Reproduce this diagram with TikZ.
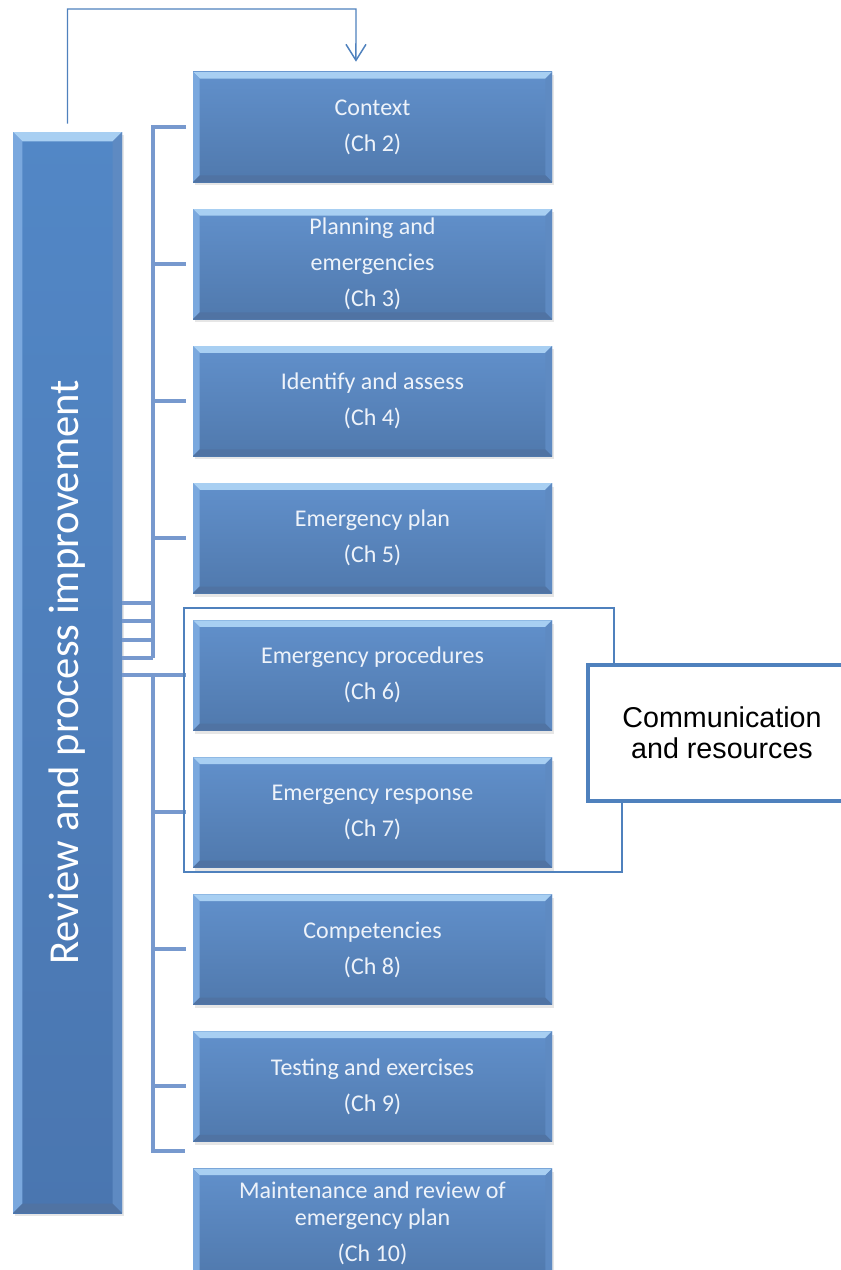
\documentclass[tikz,border=0pt]{standalone}
\usepackage{fontspec}
\setmainfont{Carlito}
\newfontfamily\arialfont{Liberation Sans}
\usetikzlibrary{arrows.meta,positioning,shadows}

\definecolor{boxtop}{HTML}{6190CB}
\definecolor{boxbot}{HTML}{5079AD}
\definecolor{bartop}{HTML}{5287C6}
\definecolor{barbot}{HTML}{4A76B0}
\definecolor{bevlight}{HTML}{A8CFF2}
\definecolor{bevleft}{HTML}{7AA8DE}
\definecolor{bevright}{HTML}{5E8AC2}
\definecolor{bevdark}{HTML}{5073A3}
\definecolor{boxtext}{HTML}{EEF3FA}
\definecolor{linkblue}{HTML}{7799CE}
\definecolor{edgeblue}{HTML}{4F81BD}

\begin{document}
\begin{tikzpicture}[x=0.75pt, y=-0.75pt, node distance=19.9pt,
  bevel/.style={path picture={
    \fill[bevlight] (path picture bounding box.north west) -- (path picture bounding box.north east)
      -- ([xshift=-#1,yshift=-#1]path picture bounding box.north east) -- ([xshift=#1,yshift=-#1]path picture bounding box.north west) -- cycle;
    \fill[bevleft] (path picture bounding box.north west) -- (path picture bounding box.south west)
      -- ([xshift=#1,yshift=#1]path picture bounding box.south west) -- ([xshift=#1,yshift=-#1]path picture bounding box.north west) -- cycle;
    \fill[bevright] (path picture bounding box.north east) -- (path picture bounding box.south east)
      -- ([xshift=-#1,yshift=#1]path picture bounding box.south east) -- ([xshift=-#1,yshift=-#1]path picture bounding box.north east) -- cycle;
    \fill[bevdark] (path picture bounding box.south west) -- (path picture bounding box.south east)
      -- ([xshift=-#1,yshift=#1]path picture bounding box.south east) -- ([xshift=#1,yshift=#1]path picture bounding box.south west) -- cycle;
  }},
  bevel/.default=5pt,
  chapter/.style={bevel, top color=boxtop, bottom color=boxbot, minimum width=269.25pt, minimum height=82.5pt,
    inner sep=0pt, text=boxtext, align=center, font=\fontsize{18}{20}\selectfont,
    drop shadow={shadow xshift=1.5pt, shadow yshift=-2.5pt, opacity=0.2}},
  sidebar/.style={bevel=7pt, top color=bartop, bottom color=barbot, minimum width=81.75pt, minimum height=810.75pt,
    inner sep=0pt, text=white, font=\fontsize{32}{36}\selectfont,
    drop shadow={shadow xshift=1.5pt, shadow yshift=-2.5pt, opacity=0.2}},
  link/.style={draw=linkblue, line width=3pt},
  frame/.style={draw=edgeblue, line width=0.9pt},
  note/.style={draw=edgeblue, line width=3pt, fill=white, minimum width=201pt, minimum height=102pt,
    align=center, font=\arialfont\fontsize{21.5}{23}\selectfont},
  back/.style={draw=edgeblue, line width=1.1pt, -{Straight Barb[length=12pt,width=15pt]}}]
\useasboundingbox (0,0) rectangle (841,1270);
\clip (0,0) rectangle (841,1270);

% chapters
\node[chapter] (ctx) at (372.5,127) {Context\\[7pt](Ch 2)};
\node[chapter] (plan) [below=of ctx] {Planning and\\[7pt]emergencies\\[7pt](Ch 3)};
\node[chapter] (assess) [below=of plan] {Identify and assess\\[7pt](Ch 4)};
\node[chapter] (eplan) [below=of assess] {Emergency plan\\[7pt](Ch 5)};
\node[chapter] (proc) [below=of eplan] {Emergency procedures\\[7pt](Ch 6)};
\node[chapter] (resp) [below=of proc] {Emergency response\\[7pt](Ch 7)};
\node[chapter] (comp) [below=of resp] {Competencies\\[7pt](Ch 8)};
\node[chapter] (test) [below=of comp] {Testing and exercises\\[7pt](Ch 9)};
\node[chapter] (maint) [below=of test] {Maintenance and review of\\emergency plan\\[7pt](Ch 10)};

\node[sidebar] (rev) at (67.5,672.5) {\rotatebox{90}{Review and process improvement}};

% upper bracket
\coordinate (upjoin) at (153,658);
\draw[link] ([xshift=-5pt]ctx.west) -| (upjoin);
\foreach \n in {plan,assess,eplan} \draw[link] (upjoin |- \n.west) -- ([xshift=-5pt]\n.west);
\foreach \y in {603,621,640,658} \draw[link] (rev.east |- 0,\y) -- (upjoin |- 0,\y);

% lower bracket
\coordinate (lowend) at (153,1151);
\draw[link] (rev.east |- proc.west) -- ([xshift=-5pt]proc.west);
\draw[link] (lowend |- proc.west) -- (lowend) -- ++(32,0);
\foreach \n in {resp,comp,test} \draw[link] (lowend |- \n.west) -- ([xshift=-5pt]\n.west);

% communication group
\draw[frame] (184,608) -- (614,608) -- (614,740) -- (622,740) -- (622,872) -- (184,872) -- cycle;
\node[note] (comm) at (722,733) {Communication\\and resources};

% feedback loop
\coordinate (looptop) at (356,9);
\draw[back] ([yshift=6pt]rev.north) |- (looptop) -- ([xshift=-12.4pt,yshift=7.5pt]ctx.north);
\end{tikzpicture}
\end{document}
